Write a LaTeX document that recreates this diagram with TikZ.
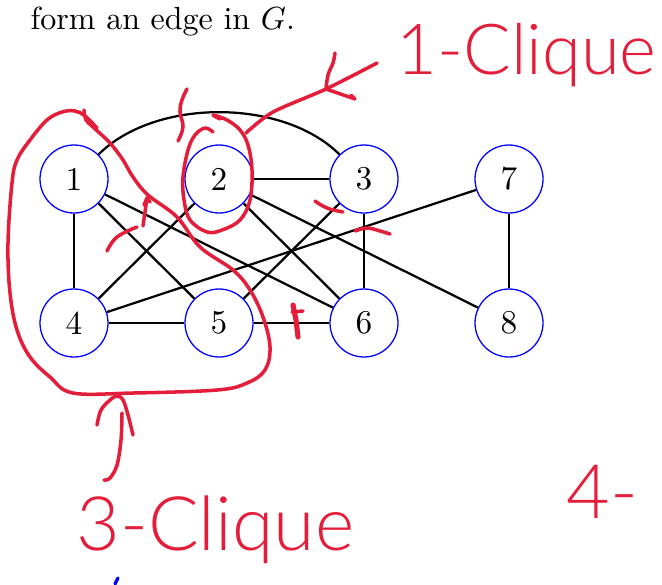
\documentclass[tikz,border=0pt]{standalone}
\usepackage{fontspec}
\newfontfamily\handfont{Lato Light}
\definecolor{pencol}{RGB}{228,30,58}
\begin{document}
\begin{tikzpicture}[x=0.3125pt,y=0.3125pt,
  vtx/.style={circle,draw=blue,line width=0.4pt,minimum size=21.25pt,inner sep=0pt,font=\fontsize{10.4}{12}\selectfont},
  edge/.style={draw=black,line width=0.7pt},
  pen/.style={draw=pencol,line width=1.1pt,line cap=round,line join=round},
  handtext/.style={text=pencol,font=\handfont\fontsize{22}{26}\selectfont,inner sep=0pt}]
\useasboundingbox (0,0) rectangle (662,-584);

% header text
\node[anchor=base west,inner sep=0pt,font=\fontsize{10}{12}\selectfont] (hdr) at (30,-29) {form an edge in $G$.};

% vertices
\node[vtx] (n1) at (74,-179) {1};
\node[vtx] (n2) at (219,-179) {2};
\node[vtx] (n3) at (364,-179) {3};
\node[vtx] (n7) at (509,-179) {7};
\node[vtx] (n4) at (74,-323) {4};
\node[vtx] (n5) at (219,-323) {5};
\node[vtx] (n6) at (364,-323) {6};
\node[vtx] (n8) at (509,-323) {8};

% edges
\draw[edge] (n1) to[bend left=45,looseness=0.85] (n3);
\draw[edge] (n1) -- (n4);
\draw[edge] (n1) -- (n5);
\draw[edge] (n1) -- (n6);
\draw[edge] (n2) -- (n3);
\draw[edge] (n2) -- (n4);
\draw[edge] (n2) -- (n6);
\draw[edge] (n2) -- (n8);
\draw[edge] (n3) -- (n5);
\draw[edge] (n3) -- (n6);
\draw[edge] (n4) -- (n7);
\draw[edge] (n4) -- (n5);
\draw[edge] (n5) -- (n6);
\draw[edge] (n7) -- (n8);

% handwritten annotations
\node[handtext,anchor=base west] (c1) at (396,-74) {1-Clique};
\node[handtext,font=\handfont\fontsize{23.5}{28}\selectfont,anchor=base west] (c3) at (76,-550) {3-Clique};
\node[handtext,font=\handfont\fontsize{23.5}{28}\selectfont,anchor=base west] (c4) at (566,-518) {4-};

% loop around 1,4,5
\draw[pen] plot[smooth,tension=0.6] coordinates {(84,-110) (86,-120) (93,-127) (110,-143) (123,-160) (133,-177) (148,-195) (177,-217) (200,-247) (233,-270) (250,-290) (263,-317) (270,-347) (265,-370) (247,-383) (217,-390) (133,-393) (73,-393) (50,-377) (30,-357) (17,-330) (10,-293) (8,-243) (12,-183) (17,-160) (30,-140) (47,-120) (62,-112) (75,-111) (85,-116) (97,-128)};
% small arrow near edge 1-5
\draw[pen] plot[smooth,tension=0.7] coordinates {(107,-251) (117,-237) (137,-227)};
\draw[pen] (143,-226) -- (147,-198);
\draw[pen] (144,-205) -- (147,-198) -- (150,-202);

% loop around 2
\draw[pen] plot[smooth,tension=0.6] coordinates {(213,-132) (205,-128) (195,-135) (188,-150) (183,-177) (184,-200) (190,-220) (207,-232) (222,-230) (240,-220) (250,-200) (252,-170) (248,-145) (240,-130) (227,-120) (213,-115) (220,-119)};
% wavy line above 2
\draw[pen] plot[smooth,tension=0.7] coordinates {(187,-89) (182,-100) (180,-112) (183,-127) (178,-141)};
% arrow to 1-Clique
\draw[pen] plot[smooth,tension=0.5] coordinates {(246,-133) (273,-112) (326,-89) (377,-63)};
\draw[pen] plot[smooth,tension=0.6] coordinates {(326,-89) (328,-75) (333,-63) (335,-53)};
\draw[pen] (326,-89) -- (355,-99) -- (351,-95);

% marks near 3
\draw[pen] plot[smooth,tension=0.7] coordinates {(315,-201) (327,-208) (343,-212)};
\draw[pen] plot[smooth,tension=0.7] coordinates {(355,-231) (367,-228) (380,-231) (390,-234)};
% mark on edge 5-6
\draw[pen,line width=1.6pt] (293,-305) -- (296,-320) -- (298,-337);
\draw[pen] (292,-312) -- (303,-311);

% arrow below to 3-Clique
\draw[pen] plot[smooth,tension=0.6] coordinates {(122,-413) (121,-440) (117,-465) (110,-478) (104,-480)};
\draw[pen] plot[smooth,tension=0.6] coordinates {(97,-425) (101,-410) (110,-400) (117,-396) (123,-400) (128,-415) (133,-435)};

% small blue mark
\draw[blue,line width=1pt,line cap=round] (118,-578) -- (115,-584);
\end{tikzpicture}
\end{document}
